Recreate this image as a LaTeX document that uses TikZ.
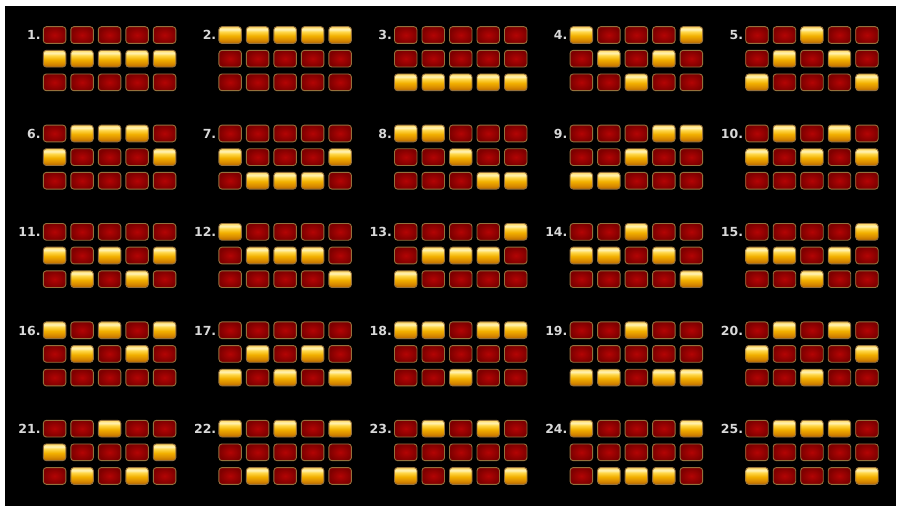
\documentclass[tikz,border=0pt]{standalone}
\usepackage{fontspec}
\newfontfamily\lblfont{DejaVu Sans}
\definecolor{gbot}{HTML}{B86800}
\definecolor{gdark}{HTML}{D88A00}
\definecolor{gmid}{HTML}{F2B000}
\definecolor{glight}{HTML}{FFD84A}
\definecolor{gwhite}{HTML}{FFF3B8}
\definecolor{gtop}{HTML}{FFD860}
\definecolor{redin}{HTML}{B40404}
\definecolor{redout}{HTML}{7E0000}
\definecolor{cellrim}{HTML}{94703C}
\definecolor{lblgray}{HTML}{D8D8D8}
\pgfdeclareverticalshading{goldsh}{100bp}{color(0bp)=(gbot); color(25bp)=(gbot); color(35bp)=(gdark); color(48bp)=(gmid); color(60bp)=(glight); color(67bp)=(gwhite); color(75bp)=(gtop); color(100bp)=(gtop)}
\begin{document}
\begin{tikzpicture}[x=1pt,y=-1pt,
  cell/.style={minimum width=22.5pt, minimum height=16.7pt, rounded corners=3pt, draw=cellrim, line width=0.9pt, inner sep=0pt, outer sep=0pt},
  goldcell/.style={cell, shading=goldsh},
  redcell/.style={cell, inner color=redin, outer color=redout},
  lbl/.style={anchor=east, text=lblgray, font=\lblfont\bfseries\fontsize{12.5}{12.5}\selectfont, inner sep=0pt}]
\useasboundingbox (0,0) rectangle (901,508);
\fill[white] (0,0) rectangle (901,508);
\fill[black] (5,6) rectangle (896,506);
\foreach \k/\pa/\pb/\pc/\pd/\pe in {
 1/1/1/1/1/1, 2/0/0/0/0/0, 3/2/2/2/2/2, 4/0/1/2/1/0, 5/2/1/0/1/2,
 6/1/0/0/0/1, 7/1/2/2/2/1, 8/0/0/1/2/2, 9/2/2/1/0/0, 10/1/0/1/0/1,
 11/1/2/1/2/1, 12/0/1/1/1/2, 13/2/1/1/1/0, 14/1/1/0/1/2, 15/1/1/2/1/0,
 16/0/1/0/1/0, 17/2/1/2/1/2, 18/0/0/2/0/0, 19/2/2/0/2/2, 20/1/0/2/0/1,
 21/1/2/0/2/1, 22/0/2/0/2/0, 23/2/0/2/0/2, 24/0/2/2/2/0, 25/2/0/0/0/2} {
  \pgfmathtruncatemacro\gi{int((\k-1)/5)}
  \pgfmathtruncatemacro\gj{mod(\k-1,5)}
  \pgfmathsetmacro\xo{43.3+175.6*\gj}
  \pgfmathsetmacro\yo{26.7+98.4*\gi}
  \node[lbl] (l\k) at (\xo-2.5,\yo+8.6) {\k.};
  \foreach \g [count=\cc from 0] in {\pa,\pb,\pc,\pd,\pe} {
    \foreach \r in {0,1,2} {
      \ifnum\r=\g\relax\def\sty{goldcell}\else\def\sty{redcell}\fi
      \node[\sty] (c\k-\r-\cc) at (\xo+11.25+27.5*\cc,\yo+8.35+23.65*\r) {};
    }
  }
}
\end{tikzpicture}
\end{document}
